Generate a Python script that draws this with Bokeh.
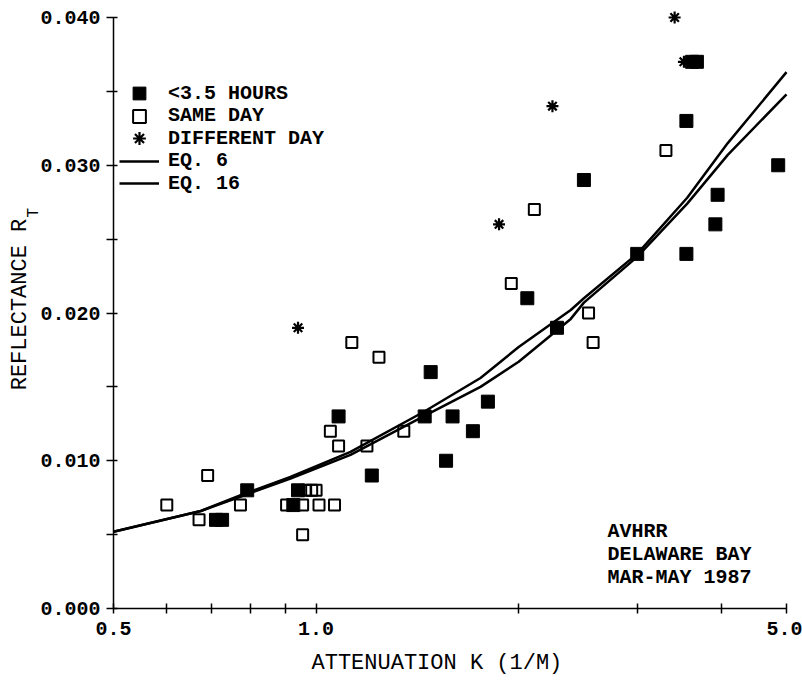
import math
from bokeh.plotting import figure
from bokeh.models import (FixedTicker, CustomJSTickFormatter, Label, Legend,
                          LegendItem, Range1d)
from bokeh.embed import file_html
from bokeh.resources import INLINE

# ---------------- data ----------------
# < 3.5 hours (filled squares)
hours_k = [0.71, 0.725, 0.79, 0.925, 0.94, 1.08, 1.21, 1.45, 1.48, 1.56, 1.595,
           1.71, 1.80, 2.06, 2.28, 2.50, 3.00, 3.55, 3.55, 3.62, 3.68, 3.92,
           3.95, 4.86]
hours_r = [0.006, 0.006, 0.008, 0.007, 0.008, 0.013, 0.009, 0.013, 0.016,
           0.010, 0.013, 0.012, 0.014, 0.021, 0.019, 0.029, 0.024, 0.033,
           0.024, 0.037, 0.037, 0.026, 0.028, 0.030]

# same day (open squares)
same_k = [0.60, 0.67, 0.69, 0.772, 0.904, 0.955, 0.955, 1.01, 1.065, 0.965,
          0.985, 1.0, 1.05, 1.08, 1.19, 1.13, 1.24, 1.35, 1.95, 2.11, 2.54,
          2.58, 3.31]
same_r = [0.007, 0.006, 0.009, 0.007, 0.007, 0.007, 0.005, 0.007, 0.007,
          0.008, 0.008, 0.008, 0.012, 0.011, 0.011, 0.018, 0.017, 0.012,
          0.022, 0.027, 0.020, 0.018, 0.031]

# different day (asterisks)
diff_k = [0.94, 1.87, 2.245, 3.41, 3.52]
diff_r = [0.019, 0.026, 0.034, 0.040, 0.037]

# model curves
eq6_k = [0.5, 0.674, 0.786, 0.916, 1.125, 1.444, 1.755, 2.0, 2.39, 2.5, 3.0,
         3.56, 4.09, 5.0]
eq6_r = [0.0052, 0.0066, 0.0078, 0.0089, 0.0106, 0.0133, 0.0156, 0.0177,
         0.0202, 0.0210, 0.0240, 0.0278, 0.0315, 0.0363]
eq16_k = [0.5, 0.674, 0.786, 0.916, 1.125, 1.444, 1.755, 2.0, 2.39, 2.5, 3.0,
          3.56, 4.09, 5.0]
eq16_r = [0.0052, 0.0066, 0.0077, 0.0088, 0.0104, 0.0130, 0.0150, 0.0167,
          0.0196, 0.0207, 0.0238, 0.0274, 0.0307, 0.0348]

x_major = [0.5, 1.0, 5.0]
x_minor = [0.6, 0.7, 0.8, 0.9, 2.0, 3.0, 4.0]
y_major = [0.0, 0.01, 0.02, 0.03, 0.04]
y_minor = [0.005, 0.015, 0.025, 0.035]

legend_labels = ["<3.5 HOURS", "SAME DAY", "DIFFERENT DAY", "EQ. 6", "EQ. 16"]
note_lines = ["AVHRR", "DELAWARE BAY", "MAR-MAY 1987"]
x_title = "ATTENUATION K  (1/M)"
y_title = "REFLECTANCE R"
y_title_sub = "T"

# ---------------- layout ----------------
# The frame covers the whole canvas; the axes are pinned with fixed_location
W, H = 802, 685
AX_L, AX_R = 113, 786      # pixel x of K=0.5 and K=5.0
AX_B, AX_T = 608, 17       # pixel y of R=0 and R=0.040
PX_PER_DEC = AX_R - AX_L
Y_PER_PX = 0.040 / (AX_B - AX_T)

FONT = "Liberation Mono"


def xd(px):
    return 0.5 * 10 ** ((px - AX_L) / PX_PER_DEC)


def yd(py):
    return (AX_B - py) * Y_PER_PX


p = figure(width=W, height=H, x_axis_type="log",
           x_range=Range1d(xd(0), xd(W)), y_range=Range1d(yd(H), yd(0)),
           output_backend="svg", toolbar_location=None,
           min_border=0, min_border_left=0, min_border_right=0,
           min_border_top=0, min_border_bottom=0)
p.grid.visible = False
p.outline_line_color = None
p.background_fill_color = "white"
p.border_fill_color = "white"

r6 = p.line(eq6_k, eq6_r, line_width=2.5, line_color="black")
r16 = p.line(eq16_k, eq16_r, line_width=2.5, line_color="black")
rs = p.scatter(same_k, same_r, marker="square", size=11, fill_color=None,
               line_color="black", line_width=2)
rh = p.scatter(hours_k, hours_r, marker="square", size=13, fill_color="black",
               line_color="black", line_width=1)
rd = p.scatter(diff_k, diff_r, marker="asterisk", size=12, line_color="black",
               line_width=2.2)

# axes
xa = p.xaxis[0]
xa.fixed_location = 0.0
xa.ticker = FixedTicker(ticks=x_major, minor_ticks=x_minor)
xa.formatter = CustomJSTickFormatter(code="return tick.toFixed(1);")
xa.bounds = (0.5, 5.0)
xa.major_tick_in = 5
xa.major_tick_out = 5
xa.minor_tick_in = 5
xa.minor_tick_out = 5
xa.major_label_standoff = 8

ya = p.yaxis[0]
ya.fixed_location = 0.5
ya.ticker = FixedTicker(ticks=y_major, minor_ticks=y_minor)
ya.formatter = CustomJSTickFormatter(code="return tick.toFixed(3);")
ya.bounds = (0.0, 0.04)
ya.major_tick_in = 4
ya.major_tick_out = 7
ya.minor_tick_in = 4
ya.minor_tick_out = 7
ya.major_label_standoff = 6

for ax in (xa, ya):
    ax.axis_line_color = "black"
    ax.axis_line_width = 1.5
    ax.major_tick_line_color = "black"
    ax.major_tick_line_width = 1.5
    ax.minor_tick_line_color = "black"
    ax.minor_tick_line_width = 1.5
    ax.major_label_text_font = FONT
    ax.major_label_text_font_size = "20px"
    ax.major_label_text_font_style = "bold"
    ax.major_label_text_color = "black"

# axis titles
p.add_layout(Label(x=xd(443), y=yd(663), text=x_title,
                   text_align="center", text_baseline="middle",
                   text_font=FONT, text_font_size="22px",
                   text_color="black"))
p.add_layout(Label(x=xd(20), y=yd(304), text=y_title,
                   angle=math.pi / 2, text_align="center",
                   text_baseline="middle", text_font=FONT,
                   text_font_size="22px", text_color="black"))
p.add_layout(Label(x=xd(33), y=yd(217), text=y_title_sub,
                   angle=math.pi / 2, text_align="left",
                   text_baseline="middle", text_font=FONT,
                   text_font_size="16px", text_color="black"))

# legend: one single-item legend per row for exact row pitch
renderers = [rh, rs, rd, r6, r16]
row0, pitch, gh = 93.0, 22.5, 32
for i, (lab, r) in enumerate(zip(legend_labels, renderers)):
    cy = row0 + pitch * i
    leg = Legend(items=[LegendItem(label=lab, renderers=[r])],
                 location=(119, H - (cy + gh / 2)),
                 glyph_width=40, glyph_height=gh, label_height=20,
                 padding=0, margin=0, label_standoff=9,
                 label_text_font=FONT, label_text_font_size="20px",
                 label_text_font_style="bold",
                 label_text_color="black",
                 border_line_color=None, background_fill_alpha=0)
    p.add_layout(leg)

# note in lower right
for i, t in enumerate(note_lines):
    p.add_layout(Label(x=xd(607), y=yd(531 + 23 * i), text=t,
                       text_align="left", text_baseline="middle",
                       text_font=FONT, text_font_size="20px",
                       text_font_style="bold", text_color="black"))

open("out.html", "w").write(file_html(p, INLINE))
